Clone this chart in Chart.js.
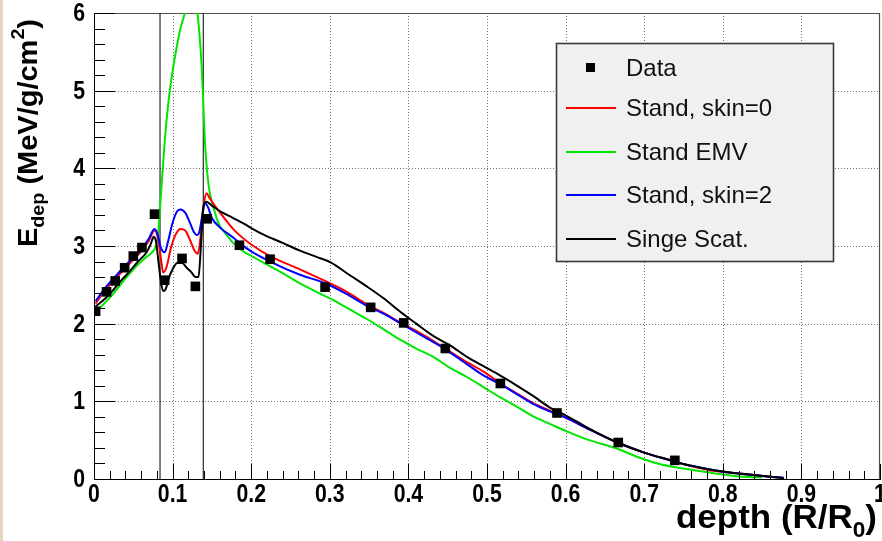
<!DOCTYPE html>
<html>
<head>
<meta charset="utf-8">
<script src="https://cdn.jsdelivr.net/npm/chart.js@4.4.1/dist/chart.umd.min.js"></script>
<style>
html,body{margin:0;padding:0;background:#ffffff;}
#wrap{position:relative;width:882px;height:541px;overflow:hidden;background:#fff;}
#strip{position:absolute;left:0;top:0;width:3px;height:541px;background:#e7d6c0;}
canvas{position:absolute;left:0;top:0;}
</style>
</head>
<body>
<div id="wrap"><canvas id="chart" width="882" height="541"></canvas><div id="strip"></div></div>
<script>
// ---------------- data ----------------
const xTickLabels = ['0','0.1','0.2','0.3','0.4','0.5','0.6','0.7','0.8','0.9','1'];
const yTickLabels = ['0','1','2','3','4','5','6'];

const dataDepth = [0.002,0.016,0.027,0.039,0.050,0.061,0.077,0.090,0.112,0.129,0.144,0.185,0.224,0.294,0.352,0.394,0.447,0.517,0.589,0.667,0.739];
const dataEdep  = [2.16,2.41,2.55,2.72,2.87,2.98,3.41,2.56,2.84,2.48,3.35,3.01,2.83,2.47,2.21,2.01,1.68,1.23,0.85,0.47,0.24];

const skin0Depth = [0.002,0.015,0.030,0.045,0.060,0.070,0.077,0.081,0.085,0.088,0.092,0.098,0.104,0.110,0.116,0.122,0.128,0.132,0.136,0.140,0.143,0.147,0.155,0.165,0.177,0.185,0.200,0.224,0.262,0.294,0.320,0.347,0.370,0.394,0.420,0.447,0.470,0.496,0.517,0.540,0.560,0.580,0.600,0.630,0.666,0.700,0.730,0.751,0.780,0.810,0.836,0.860,0.875];
const skin0Edep  = [2.26,2.44,2.61,2.77,2.93,3.07,3.20,3.12,2.85,2.66,2.72,2.98,3.15,3.22,3.20,3.08,2.94,2.90,3.15,3.55,3.68,3.62,3.50,3.37,3.22,3.14,3.02,2.87,2.70,2.55,2.42,2.25,2.13,1.99,1.85,1.68,1.53,1.38,1.23,1.09,0.97,0.88,0.79,0.64,0.47,0.34,0.25,0.19,0.12,0.08,0.055,0.03,0.02];

const emvDepth = [0.002,0.015,0.025,0.035,0.046,0.056,0.067,0.075,0.079,0.082,0.084,0.086,0.090,0.095,0.100,0.105,0.110,0.116,0.120,0.124,0.128,0.131,0.134,0.137,0.139,0.141,0.144,0.147,0.152,0.158,0.169,0.177,0.190,0.199,0.220,0.240,0.262,0.283,0.305,0.326,0.347,0.368,0.390,0.410,0.432,0.453,0.475,0.496,0.517,0.540,0.560,0.580,0.600,0.630,0.666,0.690,0.717,0.740,0.760,0.790,0.815,0.835,0.850];
const emvEdep  = [2.15,2.28,2.39,2.52,2.65,2.76,2.86,2.93,3.00,3.20,3.50,3.78,4.35,4.88,5.25,5.55,5.80,6.02,6.25,6.35,6.25,6.05,5.75,5.31,4.85,4.37,3.95,3.70,3.50,3.30,3.14,3.04,2.93,2.88,2.76,2.65,2.52,2.41,2.30,2.18,2.06,1.93,1.79,1.68,1.57,1.43,1.31,1.18,1.05,0.92,0.80,0.71,0.62,0.50,0.39,0.29,0.20,0.15,0.12,0.07,0.04,0.025,0.02];

const skin2Depth = [0.002,0.015,0.030,0.045,0.060,0.070,0.077,0.081,0.085,0.090,0.094,0.100,0.106,0.110,0.116,0.122,0.127,0.131,0.134,0.137,0.141,0.145,0.150,0.160,0.177,0.185,0.200,0.224,0.262,0.294,0.320,0.347,0.370,0.394,0.420,0.447,0.470,0.496,0.517,0.540,0.560,0.580,0.600,0.630,0.666,0.700,0.730,0.751,0.780,0.810,0.836,0.860,0.877];
const skin2Edep  = [2.29,2.47,2.64,2.80,2.95,3.10,3.22,3.15,2.98,2.92,3.05,3.30,3.45,3.47,3.43,3.30,3.18,3.14,3.18,3.35,3.55,3.50,3.36,3.24,3.11,3.04,2.93,2.80,2.63,2.52,2.39,2.23,2.12,1.98,1.83,1.67,1.51,1.33,1.22,1.08,0.96,0.87,0.79,0.64,0.47,0.34,0.25,0.19,0.13,0.08,0.055,0.03,0.02];

const singleDepth = [0.002,0.015,0.025,0.035,0.046,0.056,0.067,0.072,0.076,0.079,0.082,0.085,0.088,0.091,0.095,0.100,0.106,0.112,0.118,0.124,0.129,0.133,0.136,0.139,0.143,0.150,0.160,0.177,0.190,0.211,0.240,0.262,0.283,0.301,0.326,0.347,0.368,0.390,0.410,0.432,0.453,0.475,0.496,0.517,0.540,0.560,0.580,0.600,0.630,0.666,0.700,0.730,0.751,0.780,0.810,0.836,0.860,0.878];
const singleEdep  = [2.22,2.33,2.44,2.56,2.68,2.80,2.92,3.02,3.12,3.05,2.80,2.55,2.42,2.44,2.58,2.70,2.78,2.78,2.72,2.66,2.60,2.60,3.00,3.50,3.57,3.52,3.45,3.36,3.29,3.17,3.04,2.94,2.86,2.79,2.62,2.48,2.33,2.15,2.00,1.84,1.72,1.57,1.45,1.33,1.19,1.06,0.92,0.82,0.65,0.47,0.34,0.25,0.19,0.13,0.085,0.055,0.03,0.01];

const boundaryDepths = [0.084, 0.139];
const boundaryRange  = [0, 6];

const seriesLabels = ['Data','Stand, skin=0','Stand EMV','Stand, skin=2','Singe Scat.'];
const seriesColors = ['#000000','#ff0000','#00e600','#0000ff','#000000'];

// ---------------- helpers ----------------
const zip = (xs, ys) => xs.map((v, i) => ({x: v, y: ys[i]}));
const FONT = 'Liberation Sans, Arial, sans-serif';

function drawRich(ctx, parts, x, y, align, targetW, rotate) {
  ctx.save();
  ctx.translate(x, y);
  if (rotate) ctx.rotate(-Math.PI / 2);
  let total = 0;
  const ws = parts.map(p => { ctx.font = p.font; const w = ctx.measureText(p.t).width; total += w; return w; });
  const sx = targetW ? targetW / total : 1;
  ctx.scale(sx, 1);
  let cx = align === 'right' ? -total : (align === 'center' ? -total / 2 : 0);
  ctx.textBaseline = 'alphabetic';
  ctx.textAlign = 'left';
  ctx.fillStyle = '#000';
  parts.forEach((p, i) => { ctx.font = p.font; ctx.fillText(p.t, cx, p.dy || 0); cx += ws[i]; });
  ctx.restore();
}

const rootStyle = {
  id: 'rootStyle',
  beforeDatasetsDraw(chart) {
    const {ctx, chartArea: a, scales: {x, y}} = chart;
    ctx.save();
    ctx.strokeStyle = '#707070';
    ctx.lineWidth = 1;
    ctx.setLineDash([1, 2]);
    for (let i = 1; i < xTickLabels.length - 1; i++) {
      const px = Math.round(x.getPixelForValue(i / 10)) + 0.5;
      ctx.beginPath(); ctx.moveTo(px, a.top); ctx.lineTo(px, a.bottom); ctx.stroke();
    }
    for (let i = 1; i < yTickLabels.length - 1; i++) {
      const py = Math.round(y.getPixelForValue(i)) + 0.5;
      ctx.beginPath(); ctx.moveTo(a.left, py); ctx.lineTo(a.right, py); ctx.stroke();
    }
    ctx.setLineDash([]);
    ctx.strokeStyle = '#505050';
    ctx.lineWidth = 1.2;
    ctx.beginPath();
    ctx.moveTo(a.left, a.top + 0.5); ctx.lineTo(a.right - 0.5, a.top + 0.5); ctx.lineTo(a.right - 0.5, a.bottom);
    ctx.stroke();
    ctx.restore();
  },
  afterDatasetsDraw(chart) {
    const {ctx, chartArea: a, scales: {x, y}} = chart;
    ctx.save();
    ctx.strokeStyle = '#000';
    ctx.lineWidth = 1;
    for (let i = 0; i <= 50; i++) {
      const px = Math.round(x.getPixelForValue(i * 0.02)) + 0.5;
      const len = (i % 5 === 0) ? 15 : 8;
      ctx.beginPath(); ctx.moveTo(px, a.bottom); ctx.lineTo(px, a.bottom - len); ctx.stroke();
    }
    for (let i = 0; i <= 30; i++) {
      const py = Math.round(y.getPixelForValue(i * 0.2)) + 0.5;
      const len = (i % 5 === 0) ? 21 : 11;
      ctx.beginPath(); ctx.moveTo(a.left, py); ctx.lineTo(a.left + len, py); ctx.stroke();
    }
    ctx.beginPath();
    ctx.moveTo(a.left + 0.5, a.top); ctx.lineTo(a.left + 0.5, a.bottom + 0.5); ctx.lineTo(a.right, a.bottom + 0.5);
    ctx.stroke();
    ctx.restore();
  },
  afterDraw(chart) {
    const {ctx, chartArea: a, scales: {x, y}} = chart;
    ctx.save();
    ctx.fillStyle = '#000';
    ctx.font = 'bold 25px ' + FONT;
    ctx.textBaseline = 'top';
    ctx.textAlign = 'center';
    xTickLabels.forEach((lab, i) => {
      const px = x.getPixelForValue(i / 10);
      ctx.save(); ctx.translate(px, a.bottom + 4); ctx.scale(0.85, 1); ctx.fillText(lab, 0, 0); ctx.restore();
    });
    ctx.textBaseline = 'middle';
    ctx.textAlign = 'right';
    yTickLabels.forEach((lab, i) => {
      const py = y.getPixelForValue(i);
      ctx.save(); ctx.translate(a.left - 9, py + 1); ctx.scale(0.85, 1); ctx.fillText(lab, 0, 0); ctx.restore();
    });
    const L = 556, T = 43, W = 277, H = 218;
    ctx.fillStyle = '#f0f0f0';
    ctx.fillRect(L, T, W, H);
    ctx.strokeStyle = '#3a3a3a';
    ctx.lineWidth = 1.6;
    ctx.strokeRect(L + 0.5, T + 0.5, W, H);
    const rows = [68, 108, 152, 195, 239];
    ctx.font = '24px ' + FONT;
    ctx.textBaseline = 'middle';
    ctx.textAlign = 'left';
    seriesLabels.forEach((lab, i) => {
      const ry = rows[i];
      if (i === 0) {
        ctx.fillStyle = '#000';
        ctx.fillRect(586, ry - 5, 9, 9);
      } else {
        ctx.strokeStyle = seriesColors[i];
        ctx.lineWidth = 2;
        ctx.beginPath(); ctx.moveTo(566, ry); ctx.lineTo(616, ry); ctx.stroke();
      }
      ctx.fillStyle = '#111';
      ctx.fillText(lab, 626, ry + 1);
    });
    ctx.restore();
    drawRich(ctx, [
      {t: 'depth (R/R', font: 'bold 34px ' + FONT},
      {t: '0', font: 'bold 22px ' + FONT, dy: 9},
      {t: ')', font: 'bold 34px ' + FONT}
    ], 877, 528, 'right', 201, false);
    drawRich(ctx, [
      {t: 'E', font: 'bold 28px ' + FONT},
      {t: 'dep', font: 'bold 19px ' + FONT, dy: 7},
      {t: ' (MeV/g/cm', font: 'bold 28px ' + FONT},
      {t: '2', font: 'bold 19px ' + FONT, dy: -13},
      {t: ')', font: 'bold 28px ' + FONT}
    ], 37, 133, 'center', 228, true);
  }
};

const lineDs = (label, xs, ys, color, order) => ({
  label, data: zip(xs, ys), showLine: true, borderColor: color, backgroundColor: color,
  borderWidth: 2, pointRadius: 0, pointHoverRadius: 0, cubicInterpolationMode: 'monotone', order
});

const datasets = [
  {label: seriesLabels[0], data: zip(dataDepth, dataEdep), showLine: false, pointStyle: 'rect',
   pointRadius: 6.8, backgroundColor: '#000', borderColor: '#000', borderWidth: 0, order: 0},
  lineDs(seriesLabels[4], singleDepth, singleEdep, seriesColors[4], 1),
  lineDs(seriesLabels[3], skin2Depth, skin2Edep, seriesColors[3], 2),
  lineDs(seriesLabels[1], skin0Depth, skin0Edep, seriesColors[1], 3),
  lineDs(seriesLabels[2], emvDepth, emvEdep, seriesColors[2], 4),
];
boundaryDepths.forEach(b => datasets.push({
  label: 'boundary', data: zip([b, b], boundaryRange), showLine: true, borderColor: '#000',
  borderWidth: 1, pointRadius: 0, order: 5
}));

new Chart(document.getElementById('chart'), {
  type: 'scatter',
  data: {datasets},
  options: {
    responsive: false,
    animation: false,
    devicePixelRatio: 1,
    layout: {padding: {top: 13, right: 2, left: 0, bottom: 0}, autoPadding: false},
    plugins: {legend: {display: false}, tooltip: {enabled: false}},
    scales: {
      x: {
        type: 'linear', min: 0, max: 1,
        afterFit: s => { s.height = 62; },
        afterBuildTicks: s => { s.ticks = xTickLabels.map((l, i) => ({value: i / 10})); },
        ticks: {display: false},
        grid: {display: false, drawTicks: false},
        border: {display: true, color: '#000', width: 1}
      },
      y: {
        type: 'linear', min: 0, max: 6,
        afterFit: s => { s.width = 94; },
        afterBuildTicks: s => { s.ticks = yTickLabels.map((l, i) => ({value: i})); },
        ticks: {display: false},
        grid: {display: false, drawTicks: false},
        border: {display: true, color: '#000', width: 1}
      }
    }
  },
  plugins: [rootStyle]
});
</script>
</body>
</html>
